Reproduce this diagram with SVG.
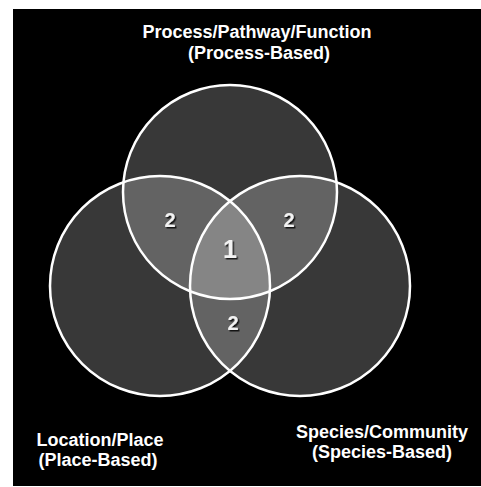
<svg xmlns="http://www.w3.org/2000/svg" width="481" height="487" viewBox="0 0 481 487">
  <defs>
    <style>
      .set { fill: #ffffff; fill-opacity: 0.22; stroke: #ffffff; stroke-width: 2.5; }
      .label { font-family: "Liberation Sans", Arial, sans-serif; font-weight: bold; font-size: 18px; fill: #ffffff; text-anchor: middle; }
      .num { font-family: "Liberation Sans", Arial, sans-serif; font-weight: bold; fill: #f2f2f2; text-anchor: middle; filter: url(#shadow); }
    </style>
    <filter id="shadow" x="-50%" y="-50%" width="200%" height="200%">
      <feDropShadow dx="1.5" dy="1.5" stdDeviation="0.6" flood-color="#000000" flood-opacity="0.8"/>
    </filter>
  </defs>
  <rect x="0" y="0" width="481" height="487" fill="#ffffff"/>
  <rect x="13" y="9" width="468" height="477" fill="#000000"/>

  <g id="node-process">
    <circle class="set" cx="230" cy="192" r="107"/>
    <text class="label" x="257" y="38">Process/Pathway/Function</text>
    <text class="label" x="259" y="59">(Process-Based)</text>
  </g>
  <g id="node-location">
    <circle class="set" cx="160" cy="286" r="110"/>
    <text class="label" x="100" y="446">Location/Place</text>
    <text class="label" x="98" y="466">(Place-Based)</text>
  </g>
  <g id="node-species">
    <circle class="set" cx="300" cy="286" r="110"/>
    <text class="label" x="382" y="438">Species/Community</text>
    <text class="label" x="382" y="458">(Species-Based)</text>
  </g>

  <g id="overlaps">
    <text class="num" x="170" y="227" font-size="20">2</text>
    <text class="num" x="289" y="227" font-size="20">2</text>
    <text class="num" x="230" y="258" font-size="25">1</text>
    <text class="num" x="233" y="330" font-size="20">2</text>
  </g>

  <g id="connectors"></g>
</svg>
